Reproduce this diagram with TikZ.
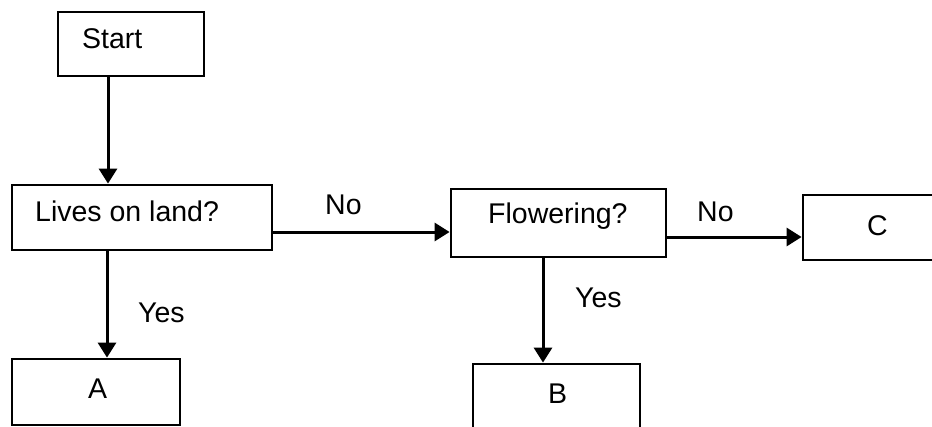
\documentclass[tikz,border=0pt]{standalone}
\usepackage{fontspec}
\setmainfont{Liberation Sans}
\usetikzlibrary{arrows.meta}
\begin{document}
\begin{tikzpicture}[x=1pt,y=-1pt,
  box/.style={draw=black,line width=2.8pt,rectangle,inner sep=0pt},
  txt/.style={anchor=base west,inner sep=0pt,font=\fontsize{28.5}{32}\selectfont},
  arr/.style={line width=3pt,-{Triangle[length=15pt,width=18pt]}}]
\useasboundingbox (0,0) rectangle (932,426);
\clip (0,0) rectangle (932,426);
\fill[white] (0,0) rectangle (932,426);
% boxes
\node[box,minimum width=146pt,minimum height=64pt] (start) at (131,44) {};
\node[box,minimum width=260pt,minimum height=65pt] (lives) at (142,217.5) {};
\node[box,minimum width=215pt,minimum height=68pt] (flow) at (558.5,223) {};
\node[box,minimum width=142pt,minimum height=65pt] (C) at (874,227.5) {};
\node[box,minimum width=168pt,minimum height=66pt] (A) at (96,392) {};
\node[box,minimum width=167pt,minimum height=80pt] (B) at (556.5,404) {};
% texts
\node[txt] (tstart) at (82,48) {Start};
\node[txt] (tlives) at (35,221) {Lives on land?};
\node[txt] (tflow) at (488,223) {Flowering?};
\node[txt] (tC) at (867,235) {C};
\node[txt] (tA) at (88,398) {A};
\node[txt] (tB) at (548,403) {B};
\node[txt] (no1) at (325,214) {No};
\node[txt] (no2) at (697,221) {No};
\node[txt] (yes1) at (138,322) {Yes};
\node[txt] (yes2) at (575,307) {Yes};
% connector guides
\coordinate (g1) at (108,0);
\coordinate (g2) at (107,0);
\coordinate (g3) at (543,0);
\coordinate (h1) at (0,232);
\coordinate (h2) at (0,237);
% connectors
\draw[arr] (start.south -| g1) -- (lives.north -| g1);
\draw[arr] (lives.south -| g2) -- (A.north -| g2);
\draw[arr] (lives.east |- h1) -- (flow.west |- h1);
\draw[arr] (flow.east |- h2) -- (C.west |- h2);
\draw[arr] (flow.south -| g3) -- (B.north -| g3);
\end{tikzpicture}
\end{document}
